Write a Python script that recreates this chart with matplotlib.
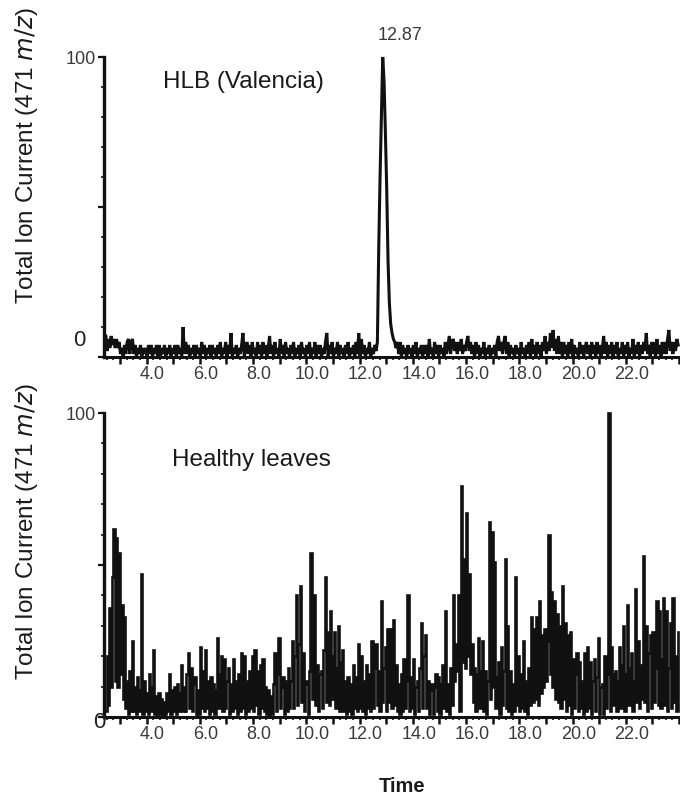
import numpy as np
import matplotlib
matplotlib.use("Agg")
import matplotlib.pyplot as plt
from matplotlib.ticker import MultipleLocator, FixedLocator, FixedFormatter

plt.rcParams['font.family'] = ['Liberation Sans', 'DejaVu Sans']

# ---------------- data ----------------
t_start = 2.47      # first retention time (min)
t_step = 0.05       # sampling interval (min)

hlb_valencia = [
    7, 2, 6, 3, 7, 4, 6, 3, 6, 3, 5, 1, 3, 0, 4, 1, 5, 6, 1, 5,
    6, 1, 4, 0, 3, 1, 4, 0, 3, 1, 3, 0, 4, 1, 4, 0, 3, 1, 4, 0,
    4, 0, 3, 1, 4, 0, 3, 1, 4, 0, 3, 1, 4, 0, 4, 1, 3, 0, 10, 1,
    5, 1, 4, 0, 3, 1, 4, 0, 4, 1, 3, 0, 5, 1, 4, 0, 3, 1, 4, 0,
    4, 1, 3, 0, 4, 1, 5, 0, 3, 1, 5, 0, 4, 1, 8, 0, 3, 1, 4, 0,
    3, 1, 4, 8, 0, 3, 5, 1, 4, 0, 5, 1, 3, 0, 5, 1, 4, 0, 5, 1,
    4, 0, 3, 7, 1, 4, 0, 5, 1, 3, 0, 6, 1, 4, 0, 5, 1, 3, 0, 4,
    1, 5, 0, 3, 1, 4, 0, 5, 1, 3, 0, 4, 1, 5, 0, 3, 1, 5, 0, 4,
    1, 4, 0, 3, 1, 5, 8, 0, 4, 1, 5, 0, 3, 1, 5, 0, 4, 1, 3, 0,
    4, 1, 5, 0, 3, 1, 4, 0, 5, 1, 8, 0, 6, 1, 4, 0, 3, 1, 5, 0,
    3, 1, 4, 2, 5, 36, 60, 80, 100, 92, 75, 56, 32, 18, 11, 8, 6, 5, 3, 5,
    1, 5, 0, 4, 1, 3, 0, 4, 1, 3, 0, 4, 1, 5, 0, 3, 1, 4, 0, 4,
    1, 4, 0, 6, 1, 3, 0, 5, 1, 4, 0, 4, 1, 3, 0, 5, 1, 4, 7, 1,
    5, 6, 2, 5, 1, 5, 2, 6, 1, 4, 2, 5, 7, 2, 5, 1, 4, 0, 5, 1,
    4, 0, 3, 1, 5, 0, 3, 1, 4, 0, 3, 1, 4, 0, 5, 7, 2, 5, 1, 5,
    7, 1, 5, 0, 4, 1, 3, 0, 4, 1, 3, 0, 5, 1, 3, 0, 4, 1, 5, 0,
    6, 1, 4, 0, 5, 1, 4, 0, 5, 2, 7, 1, 5, 2, 8, 3, 9, 2, 6, 1,
    7, 1, 5, 0, 5, 1, 4, 0, 5, 1, 6, 0, 4, 1, 3, 0, 5, 1, 4, 0,
    3, 5, 1, 4, 0, 5, 1, 4, 0, 5, 1, 4, 0, 3, 7, 1, 5, 0, 4, 1,
    5, 0, 4, 1, 5, 0, 3, 1, 5, 0, 4, 1, 5, 0, 3, 1, 6, 0, 4, 1,
    5, 0, 4, 1, 5, 2, 8, 1, 4, 0, 5, 1, 5, 0, 6, 1, 4, 0, 5, 1,
    5, 1, 6, 9, 2, 5, 1, 5, 2, 6, 4,
]

healthy_leaves = [
    2, 20, 4, 36, 10, 46, 62, 12, 59, 10, 54, 14, 37, 6, 33, 3, 12, 1, 15, 2,
    25, 2, 10, 1, 13, 2, 9, 47, 1, 12, 2, 8, 1, 14, 2, 10, 22, 1, 7, 1,
    8, 1, 6, 0, 5, 1, 8, 2, 14, 1, 9, 2, 10, 1, 11, 2, 8, 17, 2, 10,
    2, 14, 21, 3, 16, 2, 11, 13, 1, 9, 1, 23, 3, 15, 2, 22, 3, 12, 1, 13,
    2, 11, 1, 9, 26, 3, 14, 20, 2, 19, 3, 12, 16, 1, 11, 2, 19, 3, 12, 1,
    14, 2, 21, 3, 20, 1, 12, 2, 15, 3, 20, 2, 22, 4, 15, 1, 17, 3, 19, 2,
    10, 1, 9, 0, 7, 1, 11, 21, 2, 14, 26, 3, 10, 13, 1, 12, 2, 16, 3, 12,
    25, 3, 20, 40, 4, 24, 43, 5, 21, 2, 11, 12, 1, 15, 54, 6, 22, 40, 4, 17,
    2, 14, 15, 3, 22, 46, 5, 28, 4, 35, 6, 20, 28, 3, 16, 30, 2, 18, 22, 2,
    12, 1, 13, 2, 11, 1, 17, 3, 13, 2, 24, 3, 20, 2, 12, 1, 17, 3, 14, 2,
    25, 3, 16, 24, 4, 15, 2, 38, 5, 16, 23, 2, 29, 5, 29, 3, 32, 4, 17, 2,
    11, 1, 14, 2, 19, 3, 12, 40, 2, 13, 3, 19, 1, 10, 12, 2, 16, 31, 3, 20,
    27, 3, 12, 1, 9, 11, 1, 10, 14, 2, 13, 1, 11, 17, 3, 35, 2, 11, 1, 16,
    4, 40, 12, 24, 15, 40, 2, 76, 18, 52, 16, 67, 20, 47, 14, 24, 5, 16, 2, 14,
    26, 3, 15, 25, 2, 15, 1, 12, 64, 6, 61, 10, 51, 3, 13, 18, 1, 23, 4, 15,
    52, 3, 30, 2, 15, 1, 11, 2, 46, 4, 20, 2, 14, 3, 25, 2, 12, 1, 16, 4,
    33, 5, 29, 6, 33, 4, 38, 8, 27, 10, 29, 12, 25, 60, 14, 41, 10, 38, 6, 34,
    5, 30, 3, 43, 6, 31, 2, 27, 4, 28, 1, 19, 3, 14, 21, 2, 18, 3, 12, 1,
    21, 2, 23, 3, 18, 1, 12, 19, 2, 13, 26, 1, 10, 11, 1, 20, 3, 14, 100, 2,
    23, 4, 14, 15, 2, 12, 23, 3, 17, 30, 2, 14, 37, 4, 16, 21, 2, 12, 42, 5,
    25, 3, 17, 6, 53, 5, 30, 2, 21, 27, 3, 28, 5, 16, 38, 4, 35, 3, 19, 39,
    4, 35, 2, 16, 31, 3, 39, 5, 20, 2, 28,
]

x_tick_values = [4.0, 6.0, 8.0, 10.0, 12.0, 14.0, 16.0, 18.0, 20.0, 22.0]
x_tick_labels = ["4.0", "6.0", "8.0", "10.0", "12.0", "14.0", "16.0", "18.0", "20.0", "22.0"]
peak_label = "12.87"
panel_titles = ["HLB (Valencia)", "Healthy leaves"]

t_hlb = t_start + t_step * np.arange(len(hlb_valencia))
t_healthy = t_start + t_step * np.arange(len(healthy_leaves))

# ---------------- figure ----------------
W, H = 680, 796
fig = plt.figure(figsize=(W / 100, H / 100), dpi=100)

def fx(px):
    return px / W

def fy(py):
    return 1 - py / H

ax_left = 104
ax_right = 679
XMIN, XMAX = 2.40, 24.0

axes = []
for (y0, y100) in [(357, 57), (717, 413)]:
    ax = fig.add_axes([fx(ax_left), fy(y0), (ax_right - ax_left) / W, (y0 - y100) / H])
    axes.append(ax)

tick_color = "#3a3a3a"
line_color = "#111111"

axes[0].plot(t_hlb, hlb_valencia, color=line_color, lw=2.2, solid_joinstyle="miter", clip_on=False)
axes[1].plot(t_healthy, healthy_leaves, color=line_color, lw=1.9, drawstyle="steps-mid",
             solid_joinstyle="miter", clip_on=False)

for ax in axes:
    ax.set_xlim(XMIN, XMAX)
    ax.set_ylim(0, 100)
    for s in ["top", "right"]:
        ax.spines[s].set_visible(False)
    ax.spines["left"].set_linewidth(2.4)
    ax.spines["bottom"].set_linewidth(2.2)
    ax.spines["left"].set_color(line_color)
    ax.spines["bottom"].set_color(line_color)
    # x ticks: marks every minute, labels every two minutes
    ax.xaxis.set_major_locator(MultipleLocator(1.0))
    ax.xaxis.set_minor_locator(MultipleLocator(0.25))
    ax.xaxis.set_major_formatter(plt.NullFormatter())
    ax.tick_params(axis="x", which="major", direction="out", length=5, width=1.8, color=line_color)
    ax.tick_params(axis="x", which="minor", direction="out", length=2.5, width=1.2, color=line_color)
    for v, lab in zip(x_tick_values, x_tick_labels):
        ax.annotate(lab, xy=(v, 0), xycoords=("data", "axes fraction"),
                    xytext=(6, -9), textcoords="offset pixels",
                    ha="center", va="top", fontsize=13, color=tick_color)
    # y ticks
    ax.yaxis.set_major_locator(FixedLocator([0, 50, 100]))
    ax.yaxis.set_minor_locator(MultipleLocator(10))
    ax.yaxis.set_major_formatter(FixedFormatter(["", "", "100"]))
    ax.tick_params(axis="y", which="major", direction="out", length=4, width=1.6,
                   color=line_color, labelsize=13, labelcolor=tick_color, pad=2)
    ax.tick_params(axis="y", which="minor", direction="out", length=2, width=1.2, color=line_color)

# "0" labels on the y axes
fig.text(fx(79), fy(341), "0", ha="center", va="center", fontsize=16, color="#222222")
fig.text(fx(99), fy(722), "0", ha="center", va="center", fontsize=16, color="#222222")

# panel titles
fig.text(fx(163), fy(82), panel_titles[0], ha="left", va="center", fontsize=17.5, color="#1a1a1a")
fig.text(fx(172), fy(460), panel_titles[1], ha="left", va="center", fontsize=17.5, color="#1a1a1a")

# peak annotation
fig.text(fx(400), fy(35), peak_label, ha="center", va="center", fontsize=13, color=tick_color)

# y labels
for yc in (156, 532):
    fig.text(fx(27), fy(yc), "Total Ion Current (471 $\\it{m/z}$)", rotation=90,
             ha="center", va="center", fontsize=17.5, color="#1a1a1a")

# x label
fig.text(fx(402), fy(787), "Time", ha="center", va="center", fontsize=14.5,
         fontweight="bold", color="#1a1a1a")

fig.savefig("out.png", dpi=100)
